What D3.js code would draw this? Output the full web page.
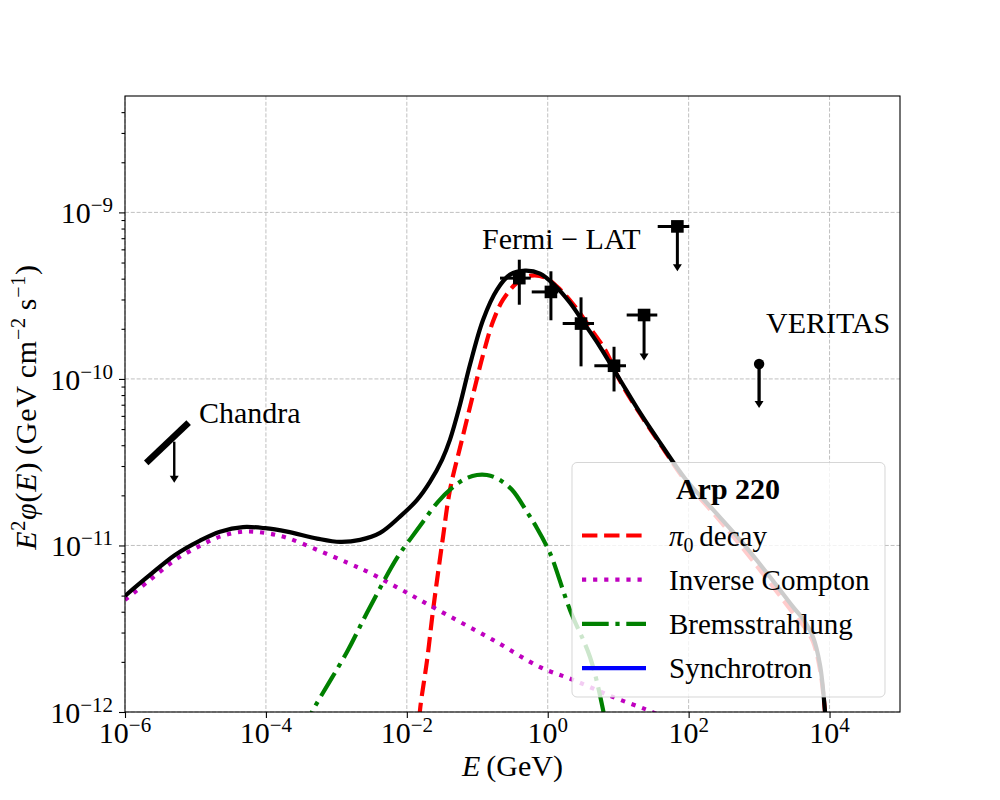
<!DOCTYPE html>
<html>
<head>
<meta charset="utf-8">
<script src="https://cdn.jsdelivr.net/npm/d3@7"></script>
<style>
  body { margin: 0; background: #fff; }
  svg text { font-family: "Liberation Serif", "DejaVu Serif", serif; fill: #000; }
</style>
</head>
<body>
<svg id="plot" width="1000" height="800"></svg>
<script>
// ---- values (E in GeV, E^2 phi in GeV cm^-2 s^-1) ----
var totalE = [1e-6, 2.26e-6, 5.13e-6, 1.16e-5, 2.23e-5, 4.73e-5, 9.70e-5, 2.00e-4, 5.32e-4, 1.13e-3,
  2.17e-3, 4.17e-3, 8.00e-3, 1.40e-2, 2.13e-2, 3.16e-2, 4.10e-2, 5.69e-2, 7.89e-2, 0.121,
  0.191, 0.292, 0.476, 0.778, 1.27, 2.07, 3.39, 5.52, 10.6, 20.4,
  39.3, 91.8, 222, 537, 1430, 3030, 4490, 5830, 7330, 8630, 9530];
var totalF = [4.98e-12, 6.65e-12, 8.77e-12, 1.07e-11, 1.21e-11, 1.29e-11, 1.27e-11, 1.21e-11, 1.10e-11, 1.05e-11,
  1.08e-11, 1.19e-11, 1.49e-11, 1.88e-11, 2.41e-11, 3.27e-11, 4.32e-11, 7.00e-11, 1.22e-10, 2.27e-10,
  3.44e-10, 4.23e-10, 4.47e-10, 4.29e-10, 3.63e-10, 2.87e-10, 2.12e-10, 1.56e-10, 9.89e-11, 6.27e-11,
  4.14e-11, 2.48e-11, 1.64e-11, 1.08e-11, 6.47e-12, 4.28e-12, 3.48e-12, 2.82e-12, 1.91e-12, 1.00e-12, 5.15e-13];

var pionE = [1.44e-2, 1.54e-2, 1.94e-2, 2.36e-2, 3.27e-2, 4.10e-2, 6.07e-2, 8.71e-2, 0.121, 0.167,
  0.232, 0.366, 0.579, 0.916, 1.50, 2.44, 3.98, 6.50, 10.6, 20.4,
  39.3, 91.8, 222, 537, 1430, 3030, 4490, 5830, 7330, 8630, 9530];
var pionF = [6.79e-13, 1.03e-12, 2.05e-12, 4.10e-12, 1.13e-11, 2.16e-11, 4.32e-11, 8.04e-11, 1.40e-10, 2.21e-10,
  2.99e-10, 3.78e-10, 4.17e-10, 4.06e-10, 3.44e-10, 2.72e-10, 2.03e-10, 1.50e-10, 9.75e-11, 6.18e-11,
  4.08e-11, 2.41e-11, 1.57e-11, 1.01e-11, 5.96e-12, 3.94e-12, 3.20e-12, 2.64e-12, 1.79e-12, 1.00e-12, 5.15e-13];

var icE = [1e-6, 2.26e-6, 5.13e-6, 1.16e-5, 2.23e-5, 4.73e-5, 9.70e-5, 2.00e-4, 5.32e-4, 1.46e-3,
  3.01e-3, 1.01e-2, 3.72e-2, 0.167, 0.778, 2.29, 8.45, 25.7, 54.5];
var icF = [4.71e-12, 6.21e-12, 8.18e-12, 9.95e-12, 1.13e-11, 1.21e-11, 1.19e-11, 1.11e-11, 9.42e-12, 7.85e-12,
  6.84e-12, 5.19e-12, 3.83e-12, 2.71e-12, 1.86e-12, 1.56e-12, 1.23e-12, 1.03e-12, 8.95e-13];

var bremE = [3.05e-4, 4.67e-4, 1.42e-3, 2.72e-3, 7.26e-3, 1.19e-2, 1.70e-2, 2.77e-2, 4.39e-2, 6.70e-2,
  9.91e-2, 0.137, 0.197, 0.311, 0.508, 0.705, 0.977, 1.15, 2.07, 3.98, 6.10, 7.18];
var bremF = [7.28e-13, 1.03e-12, 2.30e-12, 3.94e-12, 8.42e-12, 1.13e-11, 1.39e-11, 1.83e-11, 2.22e-11, 2.51e-11,
  2.65e-11, 2.65e-11, 2.51e-11, 2.16e-11, 1.59e-11, 1.27e-11, 9.82e-12, 8.42e-12, 4.10e-12, 2.14e-12, 1.03e-12, 6.79e-13];

// Fermi-LAT points with error bars
var fermiE   = [0.395, 1.11, 2.97, 8.73];
var fermiElo = [0.21, 0.593, 1.63, 4.59];
var fermiEhi = [0.574, 1.41, 4.54, 12.9];
var fermiF   = [4.03e-10, 3.33e-10, 2.15e-10, 1.20e-10];
var fermiFlo = [2.79e-10, 2.25e-10, 1.19e-10, 8.41e-11];
var fermiFhi = [5.20e-10, 4.43e-10, 3.09e-10, 1.56e-10];
// Fermi-LAT upper limits
var fermiUlE   = [23.3, 69.2];
var fermiUlElo = [13.2, 36.4];
var fermiUlEhi = [35.9, 102];
var fermiUlF   = [2.42e-10, 8.24e-10];
var fermiUlTip = [1.29e-10, 4.43e-10];
// VERITAS upper limit
var veritasE = [1000], veritasF = [1.23e-10], veritasTip = [6.7e-11];
// Chandra band and its limit arrow
var chandraE = [2e-6, 8e-6], chandraF = [3.13e-11, 5.46e-11];
var chandraUlE = [5e-6], chandraUlF = [4.2e-11], chandraUlTip = [2.38e-11];

var xTicks = [1e-6, 1e-4, 1e-2, 1e0, 1e2, 1e4];
var xTickExp = ["\u22126", "\u22124", "\u22122", "0", "2", "4"];
var yTicks = [1e-12, 1e-11, 1e-10, 1e-9];
var yTickExp = ["\u221212", "\u221211", "\u221210", "\u22129"];

var legendTitle = "Arp 220";
var legendNames = ["pion", "ic", "brem", "sync"];

// ---- layout ----
var svg = d3.select("#plot"),
    pLeft = 125, pRight = 900, pTop = 96, pBottom = 712;

var x = d3.scaleLog().domain([1e-6, 1e5]).range([pLeft, pRight]);
var y = d3.scaleLog().domain([1e-12, 5e-9]).range([pBottom, pTop]);

var styles = {
  total: {color: "#000000", dash: null},
  pion:  {color: "#ff0000", dash: "15.4,6.7"},
  ic:    {color: "#bf00bf", dash: "4.2,6.9"},
  brem:  {color: "#008000", dash: "26.7,6.7,4.2,6.7"},
  sync:  {color: "#0000ff", dash: null}
};

svg.append("defs").append("clipPath").attr("id", "clip")
  .append("rect").attr("x", pLeft).attr("y", pTop)
  .attr("width", pRight - pLeft).attr("height", pBottom - pTop);

// grid
var grid = svg.append("g").attr("stroke", "#b0b0b0").attr("stroke-width", 0.8)
  .attr("stroke-dasharray", "4,1.8");
grid.selectAll("line.gx").data(xTicks).enter().append("line")
  .attr("x1", function(d) { return x(d); }).attr("x2", function(d) { return x(d); })
  .attr("y1", pTop).attr("y2", pBottom);
grid.selectAll("line.gy").data(yTicks).enter().append("line")
  .attr("y1", function(d) { return y(d); }).attr("y2", function(d) { return y(d); })
  .attr("x1", pLeft).attr("x2", pRight);

// helper for rich text made of pieces
function rich(sel, parts, sup, sub) {
  var shift = 0;
  parts.forEach(function(p) {
    var t = sel.append("tspan").text(p.t);
    var want = p.sup ? -sup : (p.sub ? sub : 0);
    if (want !== shift) { t.attr("dy", want - shift); shift = want; }
    if (p.sup || p.sub) t.attr("font-size", p.size || 20);
    if (p.it) t.attr("font-style", "italic");
    if (p.bold) t.attr("font-weight", "bold");
  });
}

// axes
var xAxis = svg.append("g").attr("transform", "translate(0," + pBottom + ")")
  .call(d3.axisBottom(x).tickValues(xTicks).tickFormat("").tickSize(6).tickSizeOuter(0));
var yAxis = svg.append("g").attr("transform", "translate(" + pLeft + ",0)")
  .call(d3.axisLeft(y).tickValues(yTicks).tickFormat("").tickSize(6).tickSizeOuter(0));
var minor = [];
yTicks.forEach(function(d) { for (var k = 2; k < 10; k++) if (d * k < 5e-9) minor.push(d * k); });
var yMinor = svg.append("g").attr("transform", "translate(" + pLeft + ",0)")
  .call(d3.axisLeft(y).tickValues(minor).tickFormat("").tickSize(3.5).tickSizeOuter(0));
[xAxis, yAxis, yMinor].forEach(function(a) {
  a.select(".domain").remove();
  a.selectAll("line").attr("stroke", "#000").attr("stroke-width", 1.1);
});

xTicks.forEach(function(d, i) {
  var t = svg.append("text").attr("x", x(d)).attr("y", 743)
    .attr("text-anchor", "middle").attr("font-size", 30);
  rich(t, [{t: "10"}, {t: xTickExp[i], sup: true, size: 21}], 11, 0);
});
yTicks.forEach(function(d, i) {
  var t = svg.append("text").attr("x", 113).attr("y", y(d) + 11)
    .attr("text-anchor", "end").attr("font-size", 30);
  rich(t, [{t: "10"}, {t: yTickExp[i], sup: true, size: 21}], 11, 0);
});

// axis labels
var xl = svg.append("text").attr("x", (pLeft + pRight) / 2).attr("y", 776)
  .attr("text-anchor", "middle").attr("font-size", 30);
rich(xl, [{t: "E", it: true}, {t: "\u2009(GeV)"}], 11, 0);

var yl = svg.append("text").attr("transform", "translate(36,407) rotate(-90)")
  .attr("text-anchor", "middle").attr("font-size", 30).attr("letter-spacing", 0.8);
rich(yl, [{t: "E", it: true}, {t: "2", sup: true}, {t: "\u03c6", it: true}, {t: "("},
  {t: "E", it: true}, {t: ")\u2009(GeV\u2009cm"}, {t: "\u22122", sup: true}, {t: "\u2009s"},
  {t: "\u22121", sup: true}, {t: ")"}], 11, 0);

// model curves
var line = d3.line()
  .x(function(d) { return x(d[0]); })
  .y(function(d) { return y(d[1]); })
  .curve(d3.curveCatmullRom.alpha(0.5));
var curves = svg.append("g").attr("clip-path", "url(#clip)");
function drawCurve(es, fs, key) {
  var s = styles[key];
  curves.append("path")
    .datum(es.map(function(e, i) { return [e, fs[i]]; }))
    .attr("d", line).attr("fill", "none")
    .attr("stroke", s.color).attr("stroke-width", 4.2)
    .attr("stroke-dasharray", s.dash);
}
drawCurve(pionE, pionF, "pion");
drawCurve(icE, icF, "ic");
drawCurve(bremE, bremF, "brem");
drawCurve(totalE, totalF, "total");

// data
var pts = svg.append("g").attr("stroke", "#000").attr("fill", "#000");
function arrowHead(xp, yp) {
  pts.append("path").attr("stroke", "none")
    .attr("d", "M" + (xp - 4.5) + "," + (yp - 7) + "L" + (xp + 4.5) + "," + (yp - 7) + "L" + xp + "," + yp + "Z");
}
fermiE.forEach(function(e, i) {
  pts.append("line").attr("stroke-width", 3)
    .attr("x1", x(fermiElo[i])).attr("x2", x(fermiEhi[i]))
    .attr("y1", y(fermiF[i])).attr("y2", y(fermiF[i]));
  pts.append("line").attr("stroke-width", 3)
    .attr("x1", x(e)).attr("x2", x(e))
    .attr("y1", y(fermiFlo[i])).attr("y2", y(fermiFhi[i]));
  pts.append("rect").attr("stroke", "none")
    .attr("x", x(e) - 6.3).attr("y", y(fermiF[i]) - 6.3).attr("width", 12.6).attr("height", 12.6);
});
fermiUlE.forEach(function(e, i) {
  pts.append("line").attr("stroke-width", 3)
    .attr("x1", x(fermiUlElo[i])).attr("x2", x(fermiUlEhi[i]))
    .attr("y1", y(fermiUlF[i])).attr("y2", y(fermiUlF[i]));
  pts.append("line").attr("stroke-width", 3)
    .attr("x1", x(e)).attr("x2", x(e))
    .attr("y1", y(fermiUlF[i])).attr("y2", y(fermiUlTip[i]) - 3);
  arrowHead(x(e), y(fermiUlTip[i]));
  pts.append("rect").attr("stroke", "none")
    .attr("x", x(e) - 6.3).attr("y", y(fermiUlF[i]) - 6.3).attr("width", 12.6).attr("height", 12.6);
});
veritasE.forEach(function(e, i) {
  pts.append("line").attr("stroke-width", 3.3)
    .attr("x1", x(e)).attr("x2", x(e))
    .attr("y1", y(veritasF[i])).attr("y2", y(veritasTip[i]) - 3);
  arrowHead(x(e), y(veritasTip[i]));
  pts.append("circle").attr("stroke", "none")
    .attr("cx", x(e)).attr("cy", y(veritasF[i])).attr("r", 5.2);
});
pts.append("line").attr("stroke-width", 6.5)
  .attr("x1", x(chandraE[0])).attr("y1", y(chandraF[0]))
  .attr("x2", x(chandraE[1])).attr("y2", y(chandraF[1]));
chandraUlE.forEach(function(e, i) {
  pts.append("line").attr("stroke-width", 2.4)
    .attr("x1", x(e)).attr("x2", x(e))
    .attr("y1", y(chandraUlF[i])).attr("y2", y(chandraUlTip[i]) - 3);
  arrowHead(x(e), y(chandraUlTip[i]));
});

// instrument labels
svg.append("text").attr("x", 482).attr("y", 249).attr("font-size", 30).text("Fermi \u2212 LAT");
svg.append("text").attr("x", 199).attr("y", 423).attr("font-size", 30).text("Chandra");
svg.append("text").attr("x", 766).attr("y", 333).attr("font-size", 30).text("VERITAS");

// legend
var lg = svg.append("g");
lg.append("rect").attr("x", 572).attr("y", 462.5).attr("width", 313).attr("height", 234.5)
  .attr("rx", 5).attr("fill", "#fff").attr("fill-opacity", 0.8)
  .attr("stroke", "#cccccc").attr("stroke-opacity", 0.8).attr("stroke-width", 1);
lg.append("text").attr("x", 728).attr("y", 499).attr("text-anchor", "middle")
  .attr("font-size", 30).attr("font-weight", "bold").text(legendTitle);
var legendText = [
  [{t: "\u03c0", it: true}, {t: "0", sub: true}, {t: "\u2009decay"}],
  [{t: "Inverse Compton"}],
  [{t: "Bremsstrahlung"}],
  [{t: "Synchrotron"}]
];
legendNames.forEach(function(k, i) {
  var ly = 535.5 + i * 44.2, s = styles[k];
  lg.append("line").attr("x1", 582).attr("x2", 646).attr("y1", ly).attr("y2", ly)
    .attr("stroke", s.color).attr("stroke-width", 4.2).attr("stroke-dasharray", s.dash);
  var t = lg.append("text").attr("x", 669).attr("y", ly + 10).attr("font-size", 29);
  rich(t, legendText[i], 11, 6);
});

// frame
svg.append("rect").attr("x", pLeft).attr("y", pTop).attr("width", pRight - pLeft).attr("height", pBottom - pTop)
  .attr("fill", "none").attr("stroke", "#000").attr("stroke-width", 1.1);
</script>
</body>
</html>
